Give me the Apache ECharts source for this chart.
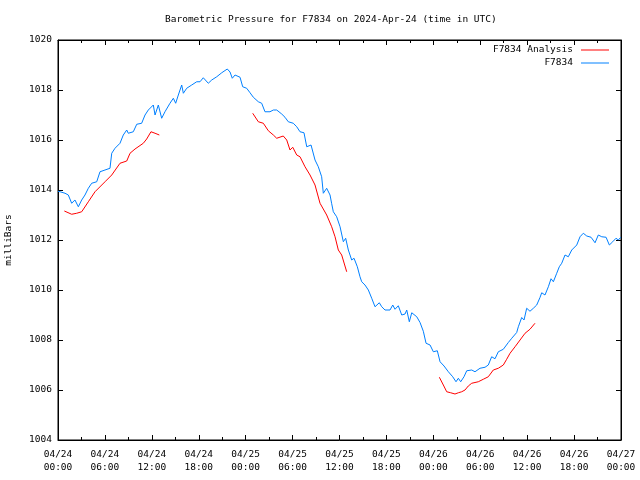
<!DOCTYPE html>
<html><head><meta charset="utf-8">
<script src="https://cdn.jsdelivr.net/npm/echarts@6/dist/echarts.min.js"></script>
<style>html,body{margin:0;padding:0;background:#fff}#c{width:640px;height:480px}</style>
</head><body><div id="c"></div>
<script>
// Hours since 2024-04-24 00:00 UTC
const xTickLabels = ['04/24\n00:00','04/24\n06:00','04/24\n12:00','04/24\n18:00','04/25\n00:00','04/25\n06:00','04/25\n12:00','04/25\n18:00','04/26\n00:00','04/26\n06:00','04/26\n12:00','04/26\n18:00','04/27\n00:00'];

const stationHours = [0,0.26,0.90,1.32,1.75,2.17,2.60,3.03,3.45,3.88,4.31,4.95,5.37,6.01,6.65,6.87,7.29,7.93,8.35,8.79,8.99,9.63,10.07,10.70,11.13,11.55,12.19,12.41,12.83,13.26,13.68,14.32,14.75,15.05,15.39,15.82,16.03,16.46,17.10,17.74,18.16,18.58,19.22,19.66,20.30,20.94,21.65,22.00,22.29,22.64,23.28,23.62,24.13,24.56,24.98,25.62,26.05,26.47,27.11,27.54,27.97,28.61,29.03,29.45,30.09,30.53,30.95,31.46,31.81,32.36,32.87,33.29,33.72,33.93,34.36,34.79,34.99,35.21,35.64,36.07,36.49,36.79,37.13,37.56,37.86,38.28,38.62,38.84,39.26,39.69,40.12,40.54,41.09,41.40,41.82,42.46,42.81,43.10,43.52,43.96,44.38,44.60,44.93,45.24,45.88,46.30,46.72,47.07,47.58,48.00,48.51,48.86,49.37,49.92,50.48,50.90,51.20,51.50,51.92,52.27,52.91,53.33,53.97,54.61,55.03,55.46,55.89,56.31,56.95,57.59,58.03,58.66,58.87,59.30,59.60,59.94,60.36,60.79,61.22,61.64,61.86,62.28,62.71,63.05,63.35,63.78,64.11,64.42,64.84,65.26,65.70,66.34,66.76,67.18,67.62,68.17,68.68,69.10,69.54,70.09,70.51,70.94,71.36,71.66,71.97];
const stationValues = [1013.95,1013.93,1013.87,1013.8,1013.47,1013.6,1013.33,1013.6,1013.8,1014.07,1014.27,1014.33,1014.73,1014.8,1014.87,1015.47,1015.67,1015.87,1016.2,1016.4,1016.27,1016.33,1016.63,1016.67,1017.0,1017.2,1017.4,1017.0,1017.4,1016.87,1017.13,1017.47,1017.67,1017.47,1017.8,1018.2,1017.87,1018.07,1018.2,1018.33,1018.33,1018.49,1018.27,1018.4,1018.53,1018.69,1018.84,1018.72,1018.47,1018.6,1018.51,1018.13,1018.07,1017.89,1017.71,1017.53,1017.47,1017.13,1017.13,1017.2,1017.2,1017.04,1016.91,1016.73,1016.67,1016.53,1016.33,1016.29,1015.73,1015.8,1015.2,1014.93,1014.53,1013.87,1014.07,1013.8,1013.47,1013.13,1012.93,1012.53,1011.93,1012.07,1011.6,1011.2,1011.27,1010.93,1010.53,1010.33,1010.2,1010.0,1009.67,1009.33,1009.49,1009.33,1009.2,1009.2,1009.4,1009.23,1009.37,1009.0,1009.04,1009.2,1008.73,1009.09,1008.93,1008.7,1008.35,1007.87,1007.8,1007.53,1007.57,1007.13,1006.96,1006.73,1006.53,1006.33,1006.47,1006.33,1006.53,1006.77,1006.8,1006.73,1006.87,1006.91,1007.0,1007.33,1007.25,1007.53,1007.63,1007.9,1008.07,1008.3,1008.53,1008.9,1008.8,1009.27,1009.15,1009.27,1009.4,1009.7,1009.89,1009.8,1010.13,1010.45,1010.33,1010.67,1010.93,1011.07,1011.4,1011.33,1011.6,1011.8,1012.13,1012.27,1012.16,1012.11,1011.89,1012.2,1012.13,1012.11,1011.8,1011.93,1012.07,1012.0,1012.11];

const analysisHours1 = [0.81,1.75,2.39,3.03,3.88,4.73,6.01,6.87,7.93,8.79,9.21,9.85,10.91,11.34,11.89,12.41,12.96];
const analysisValues1 = [1013.16,1013.03,1013.07,1013.13,1013.53,1013.93,1014.33,1014.6,1015.07,1015.16,1015.47,1015.64,1015.87,1016.04,1016.33,1016.27,1016.2];
const analysisHours2 = [24.90,25.62,26.26,26.90,27.54,27.97,28.81,29.25,29.67,30.02,30.53,30.95,31.59,32.23,32.87,33.51,34.36,35.00,35.43,35.85,36.28,36.92];
const analysisValues2 = [1017.07,1016.73,1016.67,1016.37,1016.2,1016.07,1016.16,1016.0,1015.6,1015.71,1015.4,1015.33,1014.93,1014.6,1014.2,1013.47,1013.0,1012.53,1012.13,1011.6,1011.4,1010.73];
const analysisHours3 = [48.77,49.28,49.71,50.22,50.77,51.20,51.63,52.05,52.47,52.91,53.75,54.39,55.03,55.67,56.31,56.95,57.38,57.81,58.45,59.09,59.73,60.36,61.00];
const analysisValues3 = [1006.51,1006.2,1005.93,1005.89,1005.84,1005.89,1005.93,1006.0,1006.16,1006.27,1006.33,1006.43,1006.53,1006.8,1006.87,1007.0,1007.23,1007.47,1007.73,1008.0,1008.27,1008.43,1008.67];

const FONT = 'DejaVu Sans Mono';
const FS = 9.5;

function pairs(h, v) { return h.map((t, i) => [t, v[i]]); }
const analysisData = []
  .concat(pairs(analysisHours1, analysisValues1), [[13.5, '-']])
  .concat(pairs(analysisHours2, analysisValues2), [[42, '-']])
  .concat(pairs(analysisHours3, analysisValues3));
const stationData = pairs(stationHours, stationValues);

const chart = echarts.init(document.getElementById('c'), null, {renderer: 'canvas'});
const tickCommon = {show: true, inside: true, length: 5, lineStyle: {color: '#000', width: 1}};
const minorCommon = {show: true, splitNumber: 2, length: 3, lineStyle: {color: '#000', width: 1}};
const legendText = {fontFamily: FONT, fontSize: FS, color: '#000', padding: [0, 3, 0, 0]};
chart.setOption({
  animation: false,
  backgroundColor: '#fff',
  title: {
    text: 'Barometric Pressure for F7834 on 2024-Apr-24 (time in UTC)',
    left: 165, top: 15, padding: 0,
    textStyle: {fontFamily: FONT, fontSize: FS, fontWeight: 'normal', color: '#000'}
  },
  legend: [
    {data: [{name: 'F7834 Analysis', icon: 'rect'}], right: 31, top: 45, padding: 0, itemWidth: 28, itemHeight: 1, align: 'right', selectedMode: false,
     textStyle: legendText},
    {data: [{name: 'F7834', icon: 'rect'}], right: 31, top: 58, padding: 0, itemWidth: 28, itemHeight: 1, align: 'right', selectedMode: false,
     textStyle: legendText}
  ],
  grid: {left: 58, right: 19, top: 40, bottom: 40, containLabel: false, outerBoundsMode: 'none',
         show: true, borderColor: '#000', borderWidth: 1, backgroundColor: 'transparent'},
  xAxis: [
    {type: 'value', min: 0, max: 72, interval: 6, position: 'bottom',
     axisLine: {show: true, onZero: false, lineStyle: {color: '#000'}},
     axisTick: tickCommon, minorTick: minorCommon, splitLine: {show: false},
     axisLabel: {fontFamily: FONT, fontSize: FS, color: '#000', margin: 8, lineHeight: 13,
       formatter: v => xTickLabels[Math.round(v / 6)]}},
    {type: 'value', min: 0, max: 72, interval: 6, position: 'top',
     axisLine: {show: true, onZero: false, lineStyle: {color: '#000'}},
     axisTick: tickCommon, minorTick: minorCommon, splitLine: {show: false},
     axisLabel: {show: false}}
  ],
  yAxis: [
    {type: 'value', min: 1004, max: 1020, interval: 2, position: 'left',
     name: 'milliBars', nameLocation: 'middle', nameGap: 44, nameRotate: 90,
     nameTextStyle: {fontFamily: FONT, fontSize: FS, color: '#000'},
     axisLine: {show: true, onZero: false, lineStyle: {color: '#000'}},
     axisTick: tickCommon, splitLine: {show: false},
     axisLabel: {fontFamily: FONT, fontSize: FS, color: '#000', margin: 6, formatter: v => String(v)}},
    {type: 'value', min: 1004, max: 1020, interval: 2, position: 'right',
     axisLine: {show: true, onZero: false, lineStyle: {color: '#000'}},
     axisTick: tickCommon, splitLine: {show: false},
     axisLabel: {show: false}}
  ],
  series: [
    {name: 'F7834 Analysis', type: 'line', data: analysisData, xAxisIndex: 0, yAxisIndex: 0,
     showSymbol: false, symbol: 'none', connectNulls: false, color: '#ff0000',
     lineStyle: {color: '#ff0000', width: 1}, emphasis: {disabled: true}},
    {name: 'F7834', type: 'line', data: stationData, xAxisIndex: 0, yAxisIndex: 0,
     showSymbol: false, symbol: 'none', color: '#0080ff',
     lineStyle: {color: '#0080ff', width: 1}, emphasis: {disabled: true}}
  ]
});
</script>
</body></html>
